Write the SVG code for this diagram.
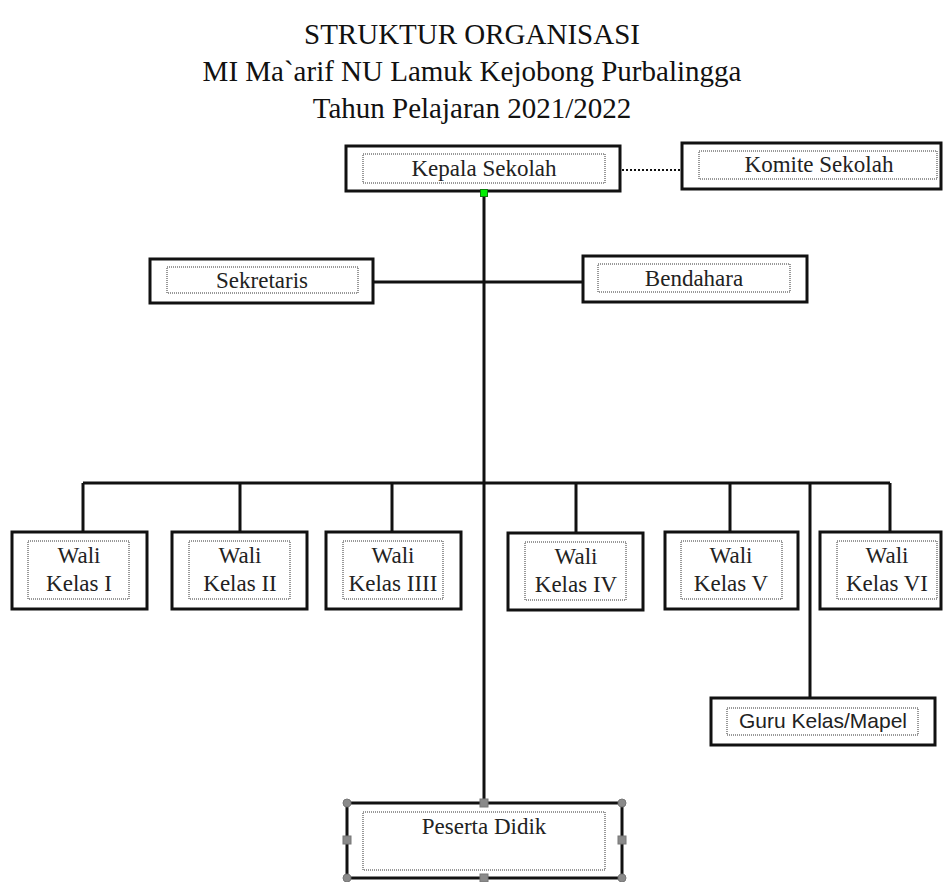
<svg xmlns="http://www.w3.org/2000/svg" width="944" height="882" viewBox="0 0 944 882">
<style>
.title{font-family:"Liberation Serif","Times New Roman",serif;font-size:29px;fill:#111;text-anchor:middle}
.lbl{font-family:"Liberation Serif","Times New Roman",serif;font-size:23px;fill:#222;text-anchor:middle}
.sans{font-family:"Liberation Sans",Arial,sans-serif;font-size:21px;fill:#222;text-anchor:middle}
.box{fill:#fff;stroke:#111;stroke-width:3}
.inner{fill:none;stroke:#333;stroke-width:1;stroke-dasharray:1 1}
.ln{fill:none;stroke:#111;stroke-width:3}
.handle{fill:#8a8a8a;stroke:#777;stroke-width:1}
</style>
<rect width="944" height="882" fill="#fff"/>
<g id="title">
<text class="title" x="472" y="44">STRUKTUR ORGANISASI</text>
<text class="title" x="472" y="81">MI Ma`arif NU Lamuk Kejobong Purbalingga</text>
<text class="title" x="472" y="118">Tahun Pelajaran 2021/2022</text>
</g>
<g id="connectors">
<line class="ln" x1="484" y1="193" x2="484" y2="803"/>
<line fill="none" stroke="#111" stroke-width="2" stroke-dasharray="2 2" x1="622" y1="170" x2="682" y2="170"/>
<line class="ln" x1="373" y1="282" x2="583" y2="282"/>
<line class="ln" x1="83" y1="483" x2="890" y2="483"/>
<line class="ln" x1="83" y1="483" x2="83" y2="532"/>
<line class="ln" x1="240" y1="483" x2="240" y2="532"/>
<line class="ln" x1="392" y1="483" x2="392" y2="532"/>
<line class="ln" x1="576" y1="483" x2="576" y2="532"/>
<line class="ln" x1="730" y1="483" x2="730" y2="532"/>
<line class="ln" x1="890" y1="483" x2="890" y2="532"/>
<line class="ln" x1="810" y1="483" x2="810" y2="698"/>
</g>
<g id="kepala">
<rect class="box" x="346" y="146" width="274" height="45"/>
<rect class="inner" x="363" y="154" width="242" height="29"/>
<text class="lbl" x="484" y="176">Kepala Sekolah</text>
<rect x="480.500" y="189.500" width="7" height="7" fill="#00ee00" stroke="#0a7a0a" stroke-width="1"/>
</g>
<g id="komite">
<rect class="box" x="682" y="143" width="259" height="46"/>
<rect class="inner" x="699" y="151" width="238" height="28"/>
<text class="lbl" x="819" y="172">Komite Sekolah</text>
</g>
<g id="sekretaris">
<rect class="box" x="150" y="259" width="223" height="44"/>
<rect class="inner" x="167" y="267" width="191" height="26"/>
<text class="lbl" x="262" y="288">Sekretaris</text>
</g>
<g id="bendahara">
<rect class="box" x="583" y="256" width="224" height="46"/>
<rect class="inner" x="598" y="264" width="192" height="28"/>
<text class="lbl" x="694" y="286">Bendahara</text>
</g>
<g id="wali1">
<rect class="box" x="12" y="532" width="135" height="77"/>
<rect class="inner" x="28" y="541" width="101" height="58"/>
<text class="lbl" x="79" y="563">Wali</text>
<text class="lbl" x="79" y="591">Kelas I</text>
</g>
<g id="wali2">
<rect class="box" x="172" y="532" width="135" height="77"/>
<rect class="inner" x="189" y="541" width="101" height="58"/>
<text class="lbl" x="240" y="563">Wali</text>
<text class="lbl" x="240" y="591">Kelas II</text>
</g>
<g id="wali3">
<rect class="box" x="326" y="532" width="135" height="77"/>
<rect class="inner" x="343" y="541" width="100" height="58"/>
<text class="lbl" x="393" y="563">Wali</text>
<text class="lbl" x="393" y="591">Kelas IIII</text>
</g>
<g id="wali4">
<rect class="box" x="508" y="533" width="135" height="77"/>
<rect class="inner" x="525" y="542" width="101" height="58"/>
<text class="lbl" x="576" y="564">Wali</text>
<text class="lbl" x="576" y="592">Kelas IV</text>
</g>
<g id="wali5">
<rect class="box" x="665" y="532" width="133" height="77"/>
<rect class="inner" x="681" y="541" width="101" height="58"/>
<text class="lbl" x="731" y="563">Wali</text>
<text class="lbl" x="731" y="591">Kelas V</text>
</g>
<g id="wali6">
<rect class="box" x="820" y="532" width="121" height="77"/>
<rect class="inner" x="837" y="541" width="100" height="58"/>
<text class="lbl" x="887" y="563">Wali</text>
<text class="lbl" x="887" y="591">Kelas VI</text>
</g>
<g id="guru">
<rect class="box" x="711" y="698" width="224" height="47"/>
<rect class="inner" x="727" y="708" width="191" height="27"/>
<text class="sans" x="823" y="728">Guru Kelas/Mapel</text>
</g>
<g id="peserta">
<rect class="box" x="347" y="803" width="275" height="75"/>
<rect class="inner" x="363" y="812" width="242" height="58"/>
<text class="lbl" x="484" y="834">Peserta Didik</text>
<circle class="handle" cx="347" cy="803" r="4"/>
<circle class="handle" cx="622" cy="803" r="4"/>
<circle class="handle" cx="347" cy="878" r="4"/>
<circle class="handle" cx="622" cy="878" r="4"/>
<rect class="handle" x="480" y="799" width="8" height="8"/>
<rect class="handle" x="480" y="874" width="8" height="8"/>
<rect class="handle" x="343" y="836" width="8" height="8"/>
<rect class="handle" x="618" y="836" width="8" height="8"/>
</g>
</svg>
